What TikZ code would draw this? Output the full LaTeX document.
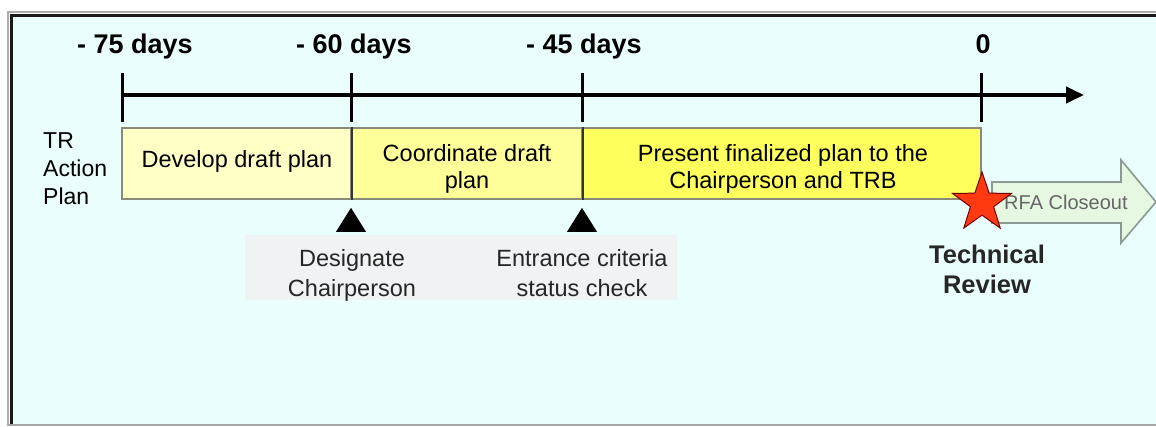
\documentclass[tikz,border=0pt]{standalone}
\usepackage{fontspec}
\setmainfont{Liberation Sans}
\usetikzlibrary{arrows.meta,shapes.geometric}
\definecolor{bg}{HTML}{EAFEFE}
\definecolor{yA}{HTML}{FFFFC6}
\definecolor{yB}{HTML}{FFFF99}
\definecolor{yC}{HTML}{FFFF5E}
\definecolor{barline}{HTML}{8A8A78}
\definecolor{labbg}{HTML}{EFF3F3}
\definecolor{starred}{HTML}{FF3A12}
\definecolor{rfafill}{HTML}{E6F8E2}
\definecolor{rfaline}{HTML}{8A9A92}
\tikzset{
  bar/.style={draw=barline, line width=1.6pt, inner sep=0pt, minimum height=71pt},
  daylabel/.style={anchor=base, font=\fontsize{27}{30}\selectfont\bfseries, inner sep=0pt},
  bartext/.style={anchor=base, align=center, font=\fontsize{23.5}{27}\selectfont, inner sep=0pt},
  milestone/.style={anchor=base, align=center, font=\fontsize{23.5}{30}\selectfont, text=black!85, inner sep=0pt},
  tickline/.style={line width=3pt},
  tri/.style={fill=black, draw=none, isosceles triangle, isosceles triangle apex angle=64, shape border rotate=90, minimum height=24pt, inner sep=0pt}
}
\begin{document}
\begin{tikzpicture}[x=1pt,y=-1pt]
\useasboundingbox (0,0) rectangle (1156,426);
\fill[white] (0,0) rectangle (1156,426);
% frame
\fill[bg] (10,14) rectangle (1156,424);
\draw[gray!65, line width=1.5pt] (8,426) -- (8,12) -- (1156,12);
\draw[black!90, line width=3pt] (11.5,426) -- (11.5,15.5) -- (1156,15.5);
\draw[gray!70, line width=2.5pt] (8,424.8) -- (1156,424.8);

% time axis
\coordinate (t75) at (122,95);
\coordinate (t60) at (351,95);
\coordinate (t45) at (582,95);
\coordinate (t0) at (981,95);
\coordinate (tend) at (1084,95);
\draw[line width=4pt, -{Triangle[length=18pt,width=16pt]}] (t75) -- (tend);
\foreach \x in {122,351,582,981} \draw[tickline] (\x,73) -- (\x,122);

\node[daylabel] (l75) at (135,53) {- 75 days};
\node[daylabel] (l60) at (354,53) {- 60 days};
\node[daylabel] (l45) at (584,53) {- 45 days};
\node[daylabel] (l0) at (983,53) {0};

% TR Action Plan (base = last line)
\node[anchor=base west, align=left, inner sep=0pt, font=\fontsize{23}{28}\selectfont] (tr) at (43,204) {TR\\Action\\Plan};

% bars
\node[bar, fill=yA, minimum width=229pt] (b1) at (236.5,163.5) {};
\node[bar, fill=yB, minimum width=231pt] (b2) at (466.5,163.5) {};
\node[bar, fill=yC, minimum width=399pt] (b3) at (781.5,163.5) {};
\draw[black!80, line width=1.6pt] (b1.north east) -- (b1.south east);
\draw[black!80, line width=1.6pt] (b2.north east) -- (b2.south east);
\node[bartext] (tx1) at (237,167) {Develop draft plan};
\node[bartext] (tx2) at (467,188) {Coordinate draft\\plan};
\node[bartext] (tx3) at (783,188) {Present finalized plan to the\\Chairperson and TRB};

% milestones
\node[tri, anchor=south] (tri1) at (351,232) {};
\node[tri, anchor=south] (tri2) at (582,232) {};
\fill[labbg] (245,235) rectangle (677,300);
\node[milestone] (m1) at (352,296) {Designate\\Chairperson};
\node[milestone] (m2) at (582,296) {Entrance criteria\\status check};

% RFA closeout arrow
\draw[fill=rfafill, draw=rfaline, line width=1.6pt]
  (992,182) -- (1121,182) -- (1121,160) -- (1156,202) -- (1121,243) -- (1121,223) -- (992,223) -- cycle;
\node[anchor=base west, inner sep=0pt, text=black!60, font=\fontsize{20}{24}\selectfont] (rfa) at (1004,209) {RFA Closeout};

% technical review star
\node[star, star points=5, star point ratio=2.55, minimum size=62pt, inner sep=0pt, fill=starred, draw=red!45!black, line width=1pt] (star) at (982,203) {};
\node[anchor=base, align=center, inner sep=0pt, font=\fontsize{25.5}{30}\selectfont\bfseries, text=black!85] (tr2) at (987,293) {Technical\\Review};
\end{tikzpicture}
\end{document}
